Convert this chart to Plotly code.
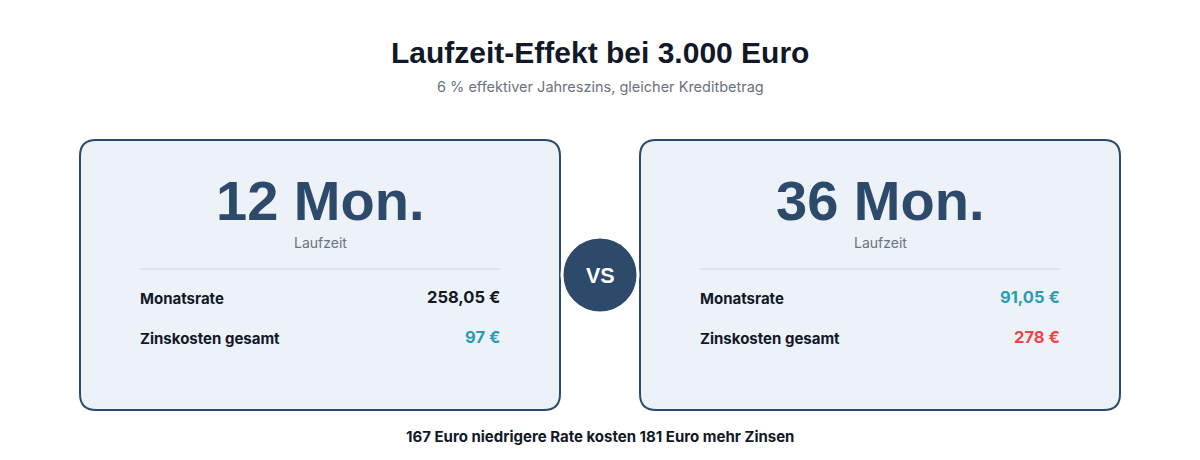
import plotly.graph_objects as go

# data
terms = ["12 Mon.", "36 Mon."]
term_label = "Laufzeit"
row_labels = ["Monatsrate", "Zinskosten gesamt"]
monthly_rate = ["258,05 €", "91,05 €"]
interest_cost = ["97 €", "278 €"]
rate_colors = ["#111827", "#2a9db5"]
cost_colors = ["#2a9db5", "#ef4444"]
title = "Laufzeit-Effekt bei 3.000 Euro"
subtitle = "6 % effektiver Jahreszins, gleicher Kreditbetrag"
footer = "167 Euro niedrigere Rate kosten 181 Euro mehr Zinsen"

W, H = 1200, 460
OFF = 8  # page body margin
NAVY = "#2d4a6b"
HEAD = "Liberation Sans, Arial, sans-serif"
BODY = "Inter, Noto Sans, sans-serif"


def rounded_rect(x0, y0, x1, y1, r):
    return (f"M {x0+r},{y0} L {x1-r},{y0} Q {x1},{y0} {x1},{y0+r} "
            f"L {x1},{y1-r} Q {x1},{y1} {x1-r},{y1} L {x0+r},{y1} "
            f"Q {x0},{y1} {x0},{y1-r} L {x0},{y0+r} Q {x0},{y0} {x0+r},{y0} Z")


fig = go.Figure()
shapes = []
annotations = []

card_left = [80, 640]
card_w = 480
for i, term in enumerate(terms):
    x0 = card_left[i]
    cx = x0 + card_w / 2
    shapes.append(dict(type="path", path=rounded_rect(x0, 140, x0 + card_w, 410, 16),
                       fillcolor="#edf1f8", line=dict(color=NAVY, width=2), layer="below"))
    shapes.append(dict(type="line", x0=x0 + 60, x1=x0 + card_w - 60, y0=269, y1=269,
                       line=dict(color="#dde3ec", width=2)))
    annotations.append(dict(x=cx, y=200, text=term, showarrow=False,
                            font=dict(family=HEAD, size=56, color=NAVY, weight=700)))
    annotations.append(dict(x=cx, y=242, text=term_label, showarrow=False,
                            font=dict(family=BODY, size=14, color="#6b7280")))
    vals = [monthly_rate[i], interest_cost[i]]
    cols = [rate_colors[i], cost_colors[i]]
    for j, lab in enumerate(row_labels):
        y = 298 + j * 40
        annotations.append(dict(x=x0 + 58, y=y, text=lab, showarrow=False, xanchor="left",
                                font=dict(family=BODY, size=15, color="#111827", weight=700)))
        annotations.append(dict(x=x0 + card_w - 58, y=y - 1, text=vals[j], showarrow=False,
                                xanchor="right",
                                font=dict(family=BODY, size=16.5, color=cols[j], weight=700)))

# vs badge
shapes.append(dict(type="circle", x0=562, x1=638, y0=237, y1=313,
                   fillcolor=NAVY, line=dict(color="white", width=3)))
annotations.append(dict(x=600, y=276, text="VS", showarrow=False,
                        font=dict(family=HEAD, size=21.5, color="white", weight=700)))

annotations.append(dict(x=600, y=52, text=title, showarrow=False,
                        font=dict(family=HEAD, size=30, color="#111827", weight=700)))
annotations.append(dict(x=600, y=87, text=subtitle, showarrow=False,
                        font=dict(family=BODY, size=14.5, color="#6b7280")))
annotations.append(dict(x=600, y=436, text=footer, showarrow=False,
                        font=dict(family=BODY, size=15, color="#111827", weight=700)))

for a in annotations:
    a["xref"] = "x"
    a["yref"] = "y"
for s in shapes:
    s["xref"] = "x"
    s["yref"] = "y"

fig.update_layout(
    width=W, height=H,
    margin=dict(l=0, r=0, t=0, b=0),
    paper_bgcolor="white", plot_bgcolor="white",
    xaxis=dict(range=[OFF, W + OFF], visible=False, fixedrange=True),
    yaxis=dict(range=[H + OFF, OFF], visible=False, fixedrange=True),
    shapes=shapes, annotations=annotations,
    showlegend=False,
)

fig.write_html("out.html", config={"displayModeBar": False})
